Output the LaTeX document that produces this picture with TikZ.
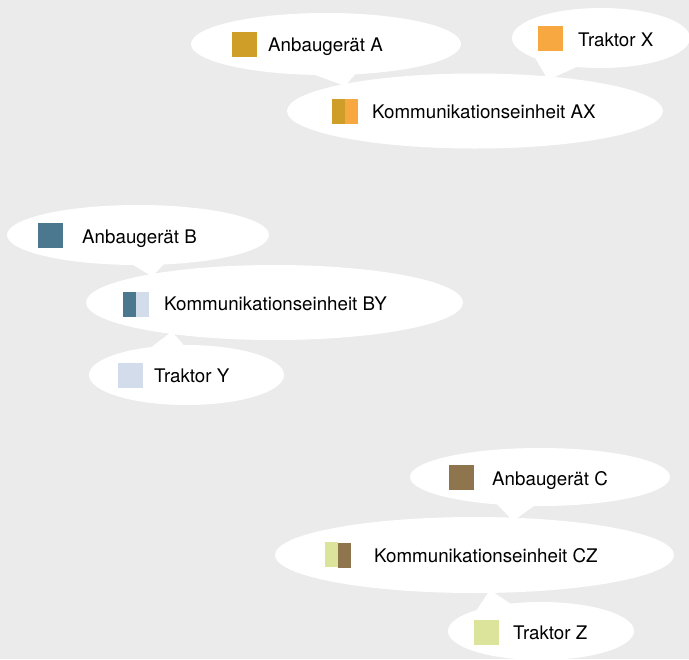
\documentclass[tikz,border=0pt]{standalone}
\usepackage{fontspec}
\setmainfont{TeX Gyre Heros}
\usetikzlibrary{shapes.geometric,calc}

\newdimen\pxu \pxu=0.03cm
\definecolor{bg}{HTML}{EBEBEB}
\definecolor{colA}{HTML}{CE9E28}
\definecolor{colX}{HTML}{F7A841}
\definecolor{colB}{HTML}{4B788F}
\definecolor{colY}{HTML}{D2DCEA}
\definecolor{colC}{HTML}{8F754E}
\definecolor{colZ}{HTML}{DCE49C}

\tikzset{
  bubble/.style 2 args={ellipse, fill=white, inner sep=0pt, minimum width=#1*\pxu, minimum height=#2*\pxu},
  swatch/.style={rectangle, fill=#1, inner sep=0pt, minimum width=25*\pxu, minimum height=25*\pxu},
  halfswatch/.style={rectangle, fill=#1, inner sep=0pt, minimum width=13*\pxu, minimum height=25*\pxu},
  lbl/.style={anchor=base west, inner sep=0pt, font=\fontsize{16}{19}\selectfont},
  tail/.style={fill=white}
}

\begin{document}
\begin{tikzpicture}[x=0.03cm, y=-0.03cm]
  \fill[bg] (0,0) rectangle (689,659);
  \useasboundingbox (0,0) rectangle (689,659);

  % Ellipses
  \foreach \n/\x/\y/\w/\h in {A/326/44/270/62, X/601/38/178/60, AX/475/111/376/75,
      B/138/235/262/60, BY/274.5/302.5/377/75, Y/186.5/375/195/60,
      C/540/477/260/58, CZ/474.5/555/399/76, Z/541/631/186/58}{
    \node[bubble={\w}{\h}] (\n) at (\x,\y) {};
  }

  % Tails
  \foreach \s/\t/\ax/\ay/\bx/\by/\cx/\cy in {A/AX/-19/28/31/28/-130/-25,
      X/AX/-67/18/-18/26/73/-31, B/BY/-8/28/27/28/-122.5/-26,
      Y/BY/-41.5/-23/1.5/-25/-102.5/29, C/CZ/-45/25/-2/26/38.5/-34,
      Z/CZ/-67/-17/-27/-25/15.5/35}{
    \fill[tail] ($(\s.center)+(\ax,\ay)$) -- ($(\s.center)+(\bx,\by)$) -- ($(\t.center)+(\cx,\cy)$) -- cycle;
  }

  % Single devices
  \foreach \n/\x/\y/\c/\tx/\ty/\txt in {A/244.5/44.5/colA/268/51.7/Anbaugerät A,
      X/550.5/38.5/colX/578/46/Traktor X, B/50.5/235.5/colB/82/243.2/Anbaugerät B,
      Y/130.5/375.5/colY/154/382.7/Traktor Y, C/461.5/477/colC/492/485/Anbaugerät C,
      Z/486.5/632.5/colZ/513/639/Traktor Z}{
    \node[swatch=\c] (s\n) at (\x,\y) {};
    \node[lbl] (t\n) at (\tx,\ty) {\txt};
  }

  % Communication units
  \foreach \n/\xa/\ya/\ca/\xb/\yb/\cb/\tx/\ty in {AX/338.5/111.5/colA/351.5/111.5/colX/372/118.3,
      BY/129.5/304.5/colB/142.5/304.5/colY/164/310.7,
      CZ/331.5/554.5/colZ/344/555.5/colC/374/562.3}{
    \node[halfswatch=\ca] (l\n) at (\xa,\ya) {};
    \node[halfswatch=\cb] (r\n) at (\xb,\yb) {};
    \node[lbl] (t\n) at (\tx,\ty) {Kommunikationseinheit \n};
  }

\end{tikzpicture}
\end{document}
